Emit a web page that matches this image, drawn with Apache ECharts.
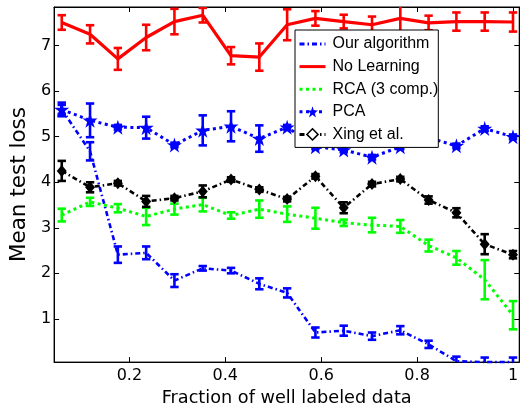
<!DOCTYPE html>
<html>
<head>
<meta charset="utf-8">
<script src="https://cdn.jsdelivr.net/npm/echarts@6/dist/echarts.min.js"></script>
<style>
html,body{margin:0;padding:0;background:#fff;}
#chart{width:521px;height:412px;}
</style>
</head>
<body>
<div id="chart"></div>
<script>
// ---- data ----
var fractions = [0.059, 0.118, 0.176, 0.235, 0.294, 0.353, 0.412, 0.471, 0.529, 0.588, 0.647, 0.706, 0.765, 0.824, 0.882, 0.941, 1.0];

var ourAlg    = [5.60, 4.68, 2.41, 2.45, 1.84, 2.11, 2.06, 1.77, 1.57, 0.70, 0.74, 0.62, 0.75, 0.44, 0.07, 0.05, 0.05];
var ourAlgErr = [0.15, 0.20, 0.18, 0.14, 0.14, 0.05, 0.06, 0.12, 0.10, 0.11, 0.11, 0.08, 0.09, 0.08, 0.10, 0.10, 0.10];

var noLearn    = [7.51, 7.25, 6.71, 7.18, 7.53, 7.67, 6.78, 6.75, 7.46, 7.60, 7.53, 7.46, 7.60, 7.50, 7.53, 7.53, 7.52];
var noLearnErr = [0.16, 0.20, 0.24, 0.28, 0.28, 0.16, 0.19, 0.30, 0.34, 0.16, 0.15, 0.18, 0.30, 0.16, 0.20, 0.20, 0.21];

var rca    = [3.28, 3.57, 3.43, 3.25, 3.41, 3.51, 3.27, 3.41, 3.30, 3.21, 3.11, 3.06, 3.03, 2.61, 2.34, 1.86, 1.08];
var rcaErr = [0.14, 0.09, 0.09, 0.19, 0.12, 0.15, 0.07, 0.19, 0.17, 0.23, 0.07, 0.16, 0.14, 0.13, 0.15, 0.43, 0.31];

var pca    = [5.60, 5.36, 5.21, 5.20, 4.82, 5.14, 5.23, 4.96, 5.21, 4.78, 4.71, 4.55, 4.78, 4.98, 4.80, 5.18, 5.00];
var pcaErr = [0.10, 0.37, 0.05, 0.24, 0.05, 0.33, 0.33, 0.29, 0.05, 0.05, 0.05, 0.05, 0.05, 0.05, 0.05, 0.05, 0.05];

var xing    = [4.25, 3.89, 3.98, 3.58, 3.65, 3.80, 4.06, 3.84, 3.63, 4.13, 3.44, 3.96, 4.07, 3.61, 3.33, 2.64, 2.41];
var xingErr = [0.22, 0.11, 0.05, 0.12, 0.05, 0.13, 0.05, 0.05, 0.05, 0.05, 0.12, 0.05, 0.05, 0.08, 0.10, 0.22, 0.08];

var xTicks = [0.2, 0.4, 0.6, 0.8, 1];
var yTicks = [1, 2, 3, 4, 5, 6, 7];
var seriesNames = ['Our algorithm', 'No Learning', 'RCA (3 comp.)', 'PCA', 'Xing et al.'];

// ---- helpers ----
var FONT = 'Liberation Sans, Arial, Helvetica, sans-serif';
var AXFONT = 'DejaVu Sans, Liberation Sans, sans-serif';
var STAR = 'path://M50,0 L61.2,34.5 L97.6,34.5 L68.2,55.9 L79.4,90.5 L50,69.1 L20.6,90.5 L31.8,55.9 L2.4,34.5 L38.8,34.5 Z';
var NOFILL = { color: 'rgba(0,0,0,0)', borderWidth: 0, opacity: 0 };

function pairs(vals) {
  return fractions.map(function (x, i) { return [x, vals[i]]; });
}
function errRows(vals, errs) {
  return fractions.map(function (x, i) { return [x, vals[i] - errs[i], vals[i] + errs[i]]; });
}
function errSeries(name, color, vals, errs) {
  return {
    type: 'custom',
    name: name + ' err',
    clip: true,
    z: 2,
    encode: { x: 0, y: [1, 2] },
    data: errRows(vals, errs),
    renderItem: function (params, api) {
      var x = api.value(0);
      var lo = api.coord([x, api.value(1)]);
      var hi = api.coord([x, api.value(2)]);
      var hw = 4.2;
      var st = { stroke: color, lineWidth: 2.6, fill: null };
      return {
        type: 'group',
        children: [
          { type: 'line', shape: { x1: lo[0], y1: lo[1], x2: hi[0], y2: hi[1] }, style: st },
          { type: 'line', shape: { x1: lo[0] - hw, y1: lo[1], x2: lo[0] + hw, y2: lo[1] }, style: st },
          { type: 'line', shape: { x1: hi[0] - hw, y1: hi[1], x2: hi[0] + hw, y2: hi[1] }, style: st }
        ]
      };
    }
  };
}

var chart = echarts.init(document.getElementById('chart'), null, { renderer: 'canvas' });

var option = {
  backgroundColor: '#fff',
  animation: false,
  textStyle: { fontFamily: FONT },
  grid: {
    left: 48, right: 1, top: 7, bottom: 41,
    show: true, borderColor: '#000', borderWidth: 1, backgroundColor: '#fff'
  },
  legend: {
    orient: 'vertical',
    left: 295, top: 30,
    data: [
      { name: 'Our algorithm', itemStyle: NOFILL },
      { name: 'No Learning', itemStyle: NOFILL },
      { name: 'RCA (3 comp.)', itemStyle: NOFILL },
      { name: 'PCA' },
      { name: 'Xing et al.', itemStyle: { color: '#fff', borderColor: '#000', borderWidth: 1.5 } }
    ],
    backgroundColor: '#fff',
    borderColor: '#000', borderWidth: 1, borderRadius: 0,
    padding: [6, 0, 5, 3],
    itemGap: 6.6,
    itemWidth: 26, itemHeight: 14,
    selectedMode: false,
    lineStyle: { width: 3 },
    textStyle: { fontSize: 16, color: '#000', fontFamily: FONT, padding: [0, 0, 0, 2] }
  },
  xAxis: [{
    type: 'value', min: 0.043, max: 1.013, position: 'bottom',
    name: 'Fraction of well labeled data', nameLocation: 'middle', nameGap: 22,
    nameTextStyle: { fontSize: 17.7, color: '#000', fontFamily: AXFONT },
    axisLine: { show: true, lineStyle: { color: '#000', width: 1 } },
    axisTick: { show: true, inside: true, length: 5, customValues: xTicks, lineStyle: { color: '#000' } },
    axisLabel: { show: true, customValues: xTicks, fontSize: 16, color: '#000', margin: 6, fontFamily: AXFONT },
    splitLine: { show: false }
  }, {
    type: 'value', min: 0.043, max: 1.013, position: 'top',
    axisLine: { show: true, lineStyle: { color: '#000', width: 1 } },
    axisTick: { show: true, inside: true, length: 5, customValues: xTicks, lineStyle: { color: '#000' } },
    axisLabel: { show: false },
    splitLine: { show: false }
  }],
  yAxis: [{
    type: 'value', min: 0.05, max: 7.85, position: 'left',
    name: 'Mean test loss', nameLocation: 'middle', nameGap: 14,
    nameTextStyle: { fontSize: 21.5, color: '#000', fontFamily: AXFONT },
    axisLine: { show: true, lineStyle: { color: '#000', width: 1 } },
    axisTick: { show: true, inside: true, length: 5, customValues: yTicks, lineStyle: { color: '#000' } },
    axisLabel: { show: true, customValues: yTicks, fontSize: 16, color: '#000', margin: 3, fontFamily: AXFONT },
    splitLine: { show: false }
  }, {
    type: 'value', min: 0.05, max: 7.85, position: 'right',
    axisLine: { show: true, lineStyle: { color: '#000', width: 1 } },
    axisTick: { show: true, inside: true, length: 5, customValues: yTicks, lineStyle: { color: '#000' } },
    axisLabel: { show: false },
    splitLine: { show: false }
  }],
  series: [
    errSeries('Our algorithm', '#0000ff', ourAlg, ourAlgErr),
    {
      type: 'line', name: 'Our algorithm', data: pairs(ourAlg), z: 3,
      symbol: 'none', color: '#0000ff',
      lineStyle: { color: '#0000ff', width: 2.6, type: [5, 3, 1.5, 3] }
    },
    errSeries('No Learning', '#ff0000', noLearn, noLearnErr),
    {
      type: 'line', name: 'No Learning', data: pairs(noLearn), z: 3,
      symbol: 'none', color: '#ff0000',
      lineStyle: { color: '#ff0000', width: 3.2, type: 'solid' }
    },
    errSeries('RCA (3 comp.)', '#00ff00', rca, rcaErr),
    {
      type: 'line', name: 'RCA (3 comp.)', data: pairs(rca), z: 3,
      symbol: 'none', color: '#00ff00',
      lineStyle: { color: '#00ff00', width: 3, type: [3, 3.5] }
    },
    errSeries('PCA', '#0000ff', pca, pcaErr),
    {
      type: 'line', name: 'PCA', data: pairs(pca), z: 3,
      symbol: STAR, symbolSize: 15, showAllSymbol: true, color: '#0000ff',
      itemStyle: { color: '#0000ff', borderWidth: 0 },
      lineStyle: { color: '#0000ff', width: 3, type: [3, 3.5] }
    },
    errSeries('Xing et al.', '#000000', xing, xingErr),
    {
      type: 'line', name: 'Xing et al.', data: pairs(xing), z: 3,
      symbol: 'diamond', symbolSize: [10, 12], showAllSymbol: true, color: '#000',
      itemStyle: { color: '#000', borderWidth: 0 },
      lineStyle: { color: '#000', width: 2.6, type: [5, 3, 1.5, 3] }
    }
  ]
};
chart.setOption(option);
</script>
</body>
</html>
